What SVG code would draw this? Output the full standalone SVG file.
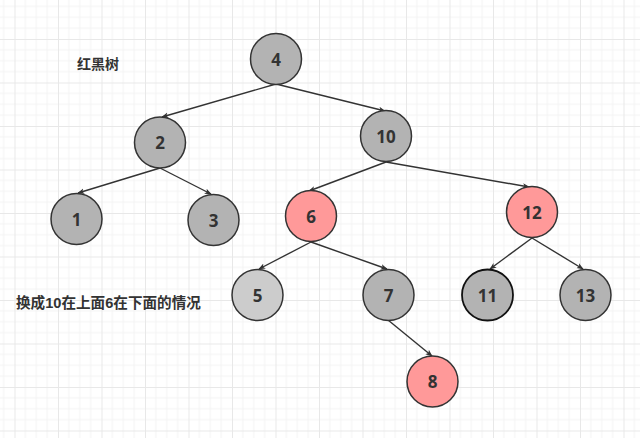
<svg xmlns="http://www.w3.org/2000/svg" width="640" height="438" viewBox="0 0 640 438">
<defs>
<pattern id="grid" patternUnits="userSpaceOnUse" x="14.5" y="39" width="43.5" height="43.5">
<path d="M10.875 0V43.5M21.75 0V43.5M32.625 0V43.5M0 10.875H43.5M0 21.75H43.5M0 32.625H43.5" stroke="#f3f3f3" stroke-width="1" fill="none"/>
<path d="M0.5 0V43.5M0 0.5H43.5" stroke="#e8e8e8" stroke-width="1" fill="none"/>
</pattern>
<marker id="arr" viewBox="0 0 10 10" refX="9" refY="5" markerWidth="7" markerHeight="7" orient="auto" markerUnits="userSpaceOnUse">
<path d="M0 1 L10 5 L0 9 L2.5 5 Z" fill="#333"/>
</marker>
<style>
.n{stroke:#333;stroke-width:1.5}
.g{fill:#b3b3b3}
.lg{fill:#cccccc}
.r{fill:#ff9999}
.t{font-family:"Open Sans","Liberation Sans","Noto Sans",sans-serif;font-weight:bold;font-size:17px;fill:#333;text-anchor:middle;dominant-baseline:central}
.c{font-family:"Liberation Sans","Noto Sans CJK SC",sans-serif;font-weight:bold;font-size:14px;fill:#333}
.e{stroke:#333;stroke-width:1.4;fill:none;marker-end:url(#arr)}
</style>
</defs>
<rect width="640" height="438" fill="#ffffff"/>
<rect width="640" height="438" fill="url(#grid)"/>
<g id="connectors">
<line class="e" x1="276" y1="84" x2="162" y2="117"/>
<line class="e" x1="276" y1="84" x2="385" y2="111"/>
<line class="e" x1="160" y1="168" x2="78" y2="193"/>
<line class="e" x1="160" y1="168" x2="211" y2="194"/>
<line class="e" x1="386" y1="162" x2="309" y2="191"/>
<line class="e" x1="386" y1="162" x2="529" y2="187"/>
<line class="e" x1="311" y1="242" x2="259" y2="269"/>
<line class="e" x1="311" y1="242" x2="387" y2="269"/>
<line class="e" x1="532" y1="238" x2="490" y2="269"/>
<line class="e" x1="532" y1="238" x2="583" y2="269"/>
<line class="e" x1="388" y1="320" x2="432" y2="356"/>
</g>
<g id="title"><text class="c" x="77" y="69">红黑树</text></g>
<g id="note"><text class="c" x="16" y="308" style="font-size:14.6px">换成10在上面6在下面的情况</text></g>
<g id="n4"><circle class="n g" cx="276" cy="59" r="25.5"/><text class="t" x="276" y="59">4</text></g>
<g id="n2"><circle class="n g" cx="160" cy="142.5" r="25.5"/><text class="t" x="160" y="142.5">2</text></g>
<g id="n10"><circle class="n g" cx="386" cy="136" r="25.5"/><text class="t" x="386" y="136">10</text></g>
<g id="n1"><circle class="n g" cx="76.5" cy="219" r="25.5"/><text class="t" x="76.5" y="219">1</text></g>
<g id="n3"><circle class="n g" cx="213.5" cy="220" r="25.5"/><text class="t" x="213.5" y="220">3</text></g>
<g id="n6"><circle class="n r" cx="311" cy="216" r="25.5"/><text class="t" x="311" y="216">6</text></g>
<g id="n12"><circle class="n r" cx="532" cy="212" r="25.5"/><text class="t" x="532" y="212">12</text></g>
<g id="n5"><circle class="n lg" cx="257.5" cy="295" r="25.5"/><text class="t" x="257.5" y="295">5</text></g>
<g id="n7"><circle class="n g" cx="388.5" cy="295" r="25.5"/><text class="t" x="388.5" y="295">7</text></g>
<g id="n11"><circle class="g" cx="487.5" cy="295" r="25.5" stroke="#111" stroke-width="1.8"/><text class="t" x="487.5" y="295">11</text></g>
<g id="n13"><circle class="n g" cx="585.5" cy="295" r="25.5"/><text class="t" x="585.5" y="295">13</text></g>
<g id="n8"><circle class="n r" cx="432.5" cy="381.5" r="25.5"/><text class="t" x="432.5" y="381.5">8</text></g>
</svg>
